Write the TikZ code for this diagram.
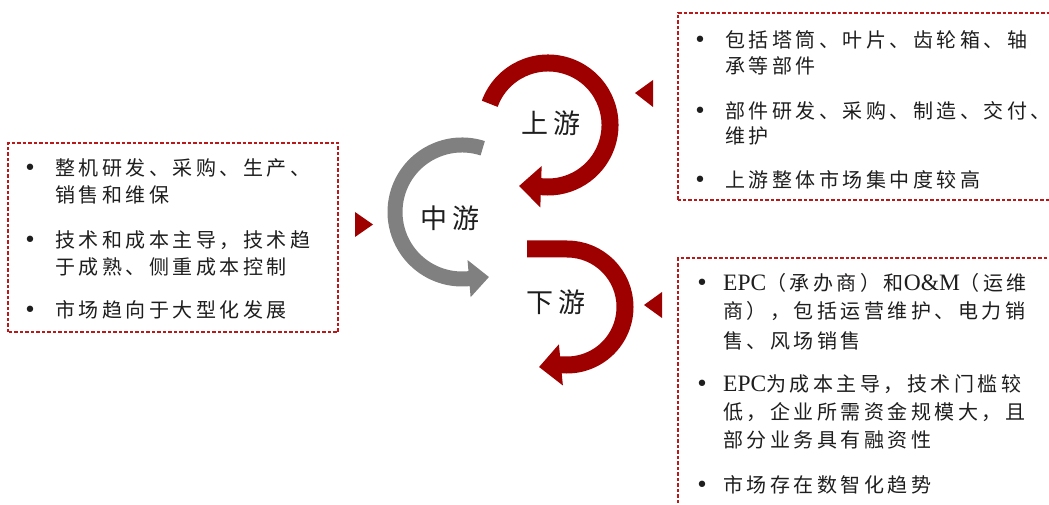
\documentclass[tikz,border=0pt]{standalone}
\usepackage{fontspec}
\setmainfont{Liberation Serif}
\newfontfamily\cjk{Noto Sans CJK SC}[LetterSpace=17.5]
\newfontfamily\cjkbig{Noto Sans CJK SC}[LetterSpace=22]
\newfontfamily\latn{Liberation Serif}
\newfontfamily\bulfont{DejaVu Sans}
\usetikzlibrary{arrows.meta}
\definecolor{dred}{RGB}{158,0,0}
\definecolor{boxred}{RGB}{185,25,25}
\definecolor{garrow}{RGB}{128,128,128}
\definecolor{txt}{RGB}{30,30,30}
\newcommand{\E}[1]{{\latn\fontsize{23.5pt}{28pt}\selectfont #1}}
\begin{document}
\begin{tikzpicture}[x=1pt,y=1pt,
  dbox/.style={draw=boxred, line width=1.8pt, dash pattern=on 3.5pt off 2pt},
  ln/.style={anchor=base west, inner sep=0pt, text=txt, font=\cjk\fontsize{20pt}{24pt}\selectfont},
  bul/.style={anchor=base, inner sep=0pt, text=txt, font=\bulfont\fontsize{22pt}{24pt}\selectfont},
  lbl/.style={inner sep=0pt, text=txt, font=\cjkbig\fontsize{27pt}{30pt}\selectfont},
  redarr/.style={draw=dred, line width=17pt, -{Triangle[length=22pt,width=40pt]}},
  grayarr/.style={draw=garrow, line width=15pt, -{Triangle[length=20pt,width=36pt]}},
  ptr/.style={fill=dred, draw=none}]
\fill[white] (0,0) rectangle (1049,504);
\useasboundingbox (0,0) rectangle (1049,504);

% boxes
\draw[dbox] (8,172) rectangle (338,361);
\draw[dbox] (678,304) rectangle (1056,491);
\draw[dbox] (678,-10) rectangle (1056,246);

% left box text
\node[bul] (lb1) at (30,328.2) {•};
\node[ln] (l1) at (55,328.2) {整机研发、采购、生产、};
\node[ln] (l2) at (55,301.5) {销售和维保};
\node[bul] (lb2) at (30,256.5) {•};
\node[ln] (l3) at (55,256.5) {技术和成本主导，技术趋};
\node[ln] (l4) at (55,229.8) {于成熟、侧重成本控制};
\node[bul] (lb3) at (30,186.5) {•};
\node[ln] (l5) at (55,186.5) {市场趋向于大型化发展};

% upper right text
\node[bul] (ub1) at (700,456.5) {•};
\node[ln] (u1) at (725,456.5) {包括塔筒、叶片、齿轮箱、轴};
\node[ln] (u2) at (725,430.5) {承等部件};
\node[bul] (ub2) at (700,385.5) {•};
\node[ln] (u3) at (725,385.5) {部件研发、采购、制造、交付、};
\node[ln] (u4) at (725,360.5) {维护};
\node[bul] (ub3) at (700,316.5) {•};
\node[ln] (u5) at (725,316.5) {上游整体市场集中度较高};

% lower right text
\node[bul] (db1) at (702,213.2) {•};
\node[ln] (d1) at (723,213.2) {\E{EPC}（承办商）和\E{O\&M}（运维};
\node[ln] (d2) at (723,185.8) {商），包括运营维护、电力销};
\node[ln] (d3) at (723,155.8) {售、风场销售};
\node[bul] (db2) at (702,112.5) {•};
\node[ln] (d4) at (723,112.5) {\E{EPC}为成本主导，技术门槛较};
\node[ln] (d5) at (723,84.8) {低，企业所需资金规模大，且};
\node[ln] (d6) at (723,56.5) {部分业务具有融资性};
\node[bul] (db3) at (702,11.5) {•};
\node[ln] (d7) at (723,11.5) {市场存在数智化趋势};

% cycle arrows
\coordinate (uc) at (548,379);
\coordinate (utip) at (519,318);
\coordinate (mc) at (462,292);
\coordinate (mtip) at (489,227);
\coordinate (dc) at (567,197);
\coordinate (dtail) at (527,255);
\coordinate (dtip) at (539,137);
\draw[redarr] ([shift={(160:62)}]uc) arc[start angle=160,end angle=-95,radius=62] -- (utip);
\draw[grayarr] ([shift={(72:67)}]mc) arc[start angle=72,end angle=274,radius=67] -- (mtip);
\draw[redarr] (dtail) -- ([shift={(90:58)}]dc) arc[start angle=90,end angle=-95,radius=58] -- (dtip);

% labels
\node[lbl] (up) at (551,381) {上游};
\node[lbl] (mid) at (450,286) {中游};
\node[lbl] (down) at (556,202) {下游};

% pointers
\fill[ptr] (355,292) -- (373,279.5) -- (355,267) -- cycle;
\fill[ptr] (635,411) -- (653,424) -- (653,397) -- cycle;
\fill[ptr] (644,199) -- (662,212) -- (662,186) -- cycle;
\end{tikzpicture}
\end{document}
